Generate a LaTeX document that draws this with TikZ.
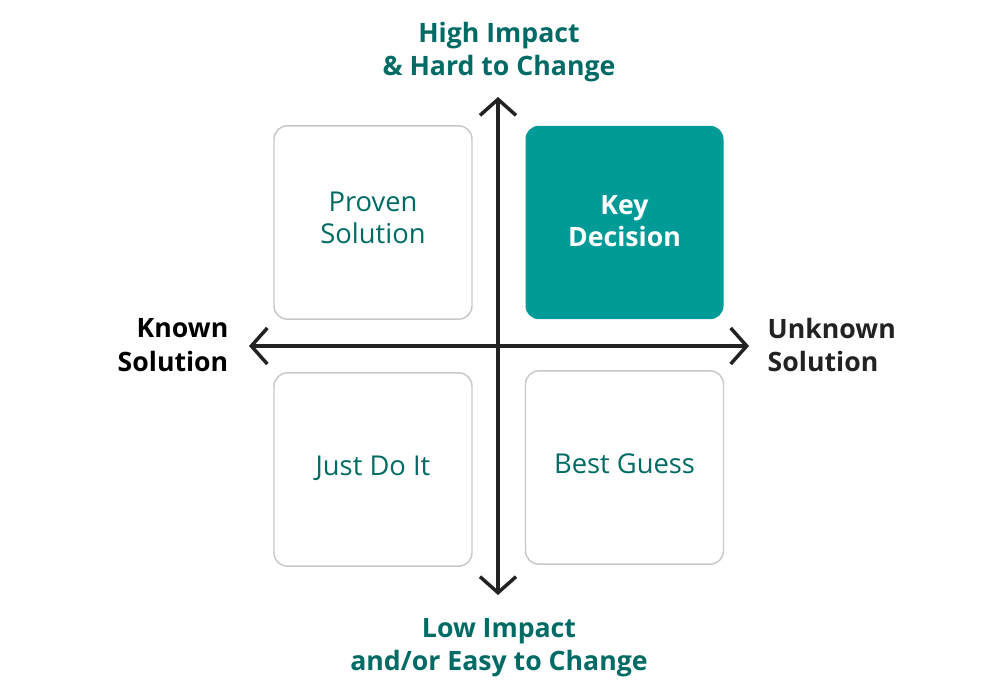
\documentclass[tikz,border=0pt]{standalone}
\usepackage{fontspec}
\setmainfont{Open Sans}
\usetikzlibrary{arrows.meta}
\definecolor{tealfill}{HTML}{009A97}
\definecolor{tealtext}{HTML}{006B64}
\definecolor{boxgray}{HTML}{C8C8C8}
\definecolor{axisblack}{HTML}{222222}
\begin{document}
\begin{tikzpicture}[x=0.75pt,y=-0.75pt,
  quad/.style={draw=boxgray,line width=1.1pt,rounded corners=10pt,minimum width=148.5pt,minimum height=145pt,inner sep=0pt},
  quadlabel/.style={text=tealtext,font=\fontsize{20.5}{24.5}\selectfont,align=center},
  keybox/.style={fill=tealfill,rounded corners=10pt,minimum width=148.5pt,minimum height=145pt,inner sep=0pt},
  axislabel/.style={font=\bfseries\fontsize{20}{25}\selectfont},
  axisline/.style={draw=axisblack,line width=2.6pt,{Straight Barb[length=12pt,width=27pt,line width=2.6pt]}-{Straight Barb[length=12pt,width=27pt,line width=2.6pt]}}
]
\useasboundingbox (0,0) rectangle (1000,700);
\fill[white] (0,0) rectangle (1000,700);
% quadrants
\node[quad] (tl) at (373,222.5) {};
\node[keybox] (tr) at (624.5,222.5) {};
\node[quad] (bl) at (373,469.5) {};
\node[quad] (br) at (624.5,467.5) {};
\node[quadlabel] (tlt) at (373,218) {Proven\\Solution};
\node[quadlabel,text=white,font=\bfseries\fontsize{20}{24.5}\selectfont] (trt) at (624.5,221) {Key\\Decision};
\node[quadlabel] (blt) at (373,468) {Just Do It};
\node[quadlabel] (brt) at (624.5,464) {Best Guess};
% axes
\coordinate (top) at (498,97);
\coordinate (bot) at (498,595);
\coordinate (lft) at (249,346);
\coordinate (rgt) at (749,346);
\draw[axisline] (bot) -- (top);
\draw[axisline] (lft) -- (rgt);
% axis labels
\node[axislabel,text=tealtext,align=center] (hi) at (499,52) {High Impact\\\& Hard to Change};
\node[axislabel,text=tealtext,align=center] (lo) at (499,648) {Low Impact\\and/or Easy to Change};
\node[axislabel,text=black,align=right,anchor=east] (kn) at (233,345) {Known\\Solution};
\node[axislabel,text=axisblack,align=left,anchor=west] (un) at (763,345) {Unknown\\Solution};
\end{tikzpicture}
\end{document}
